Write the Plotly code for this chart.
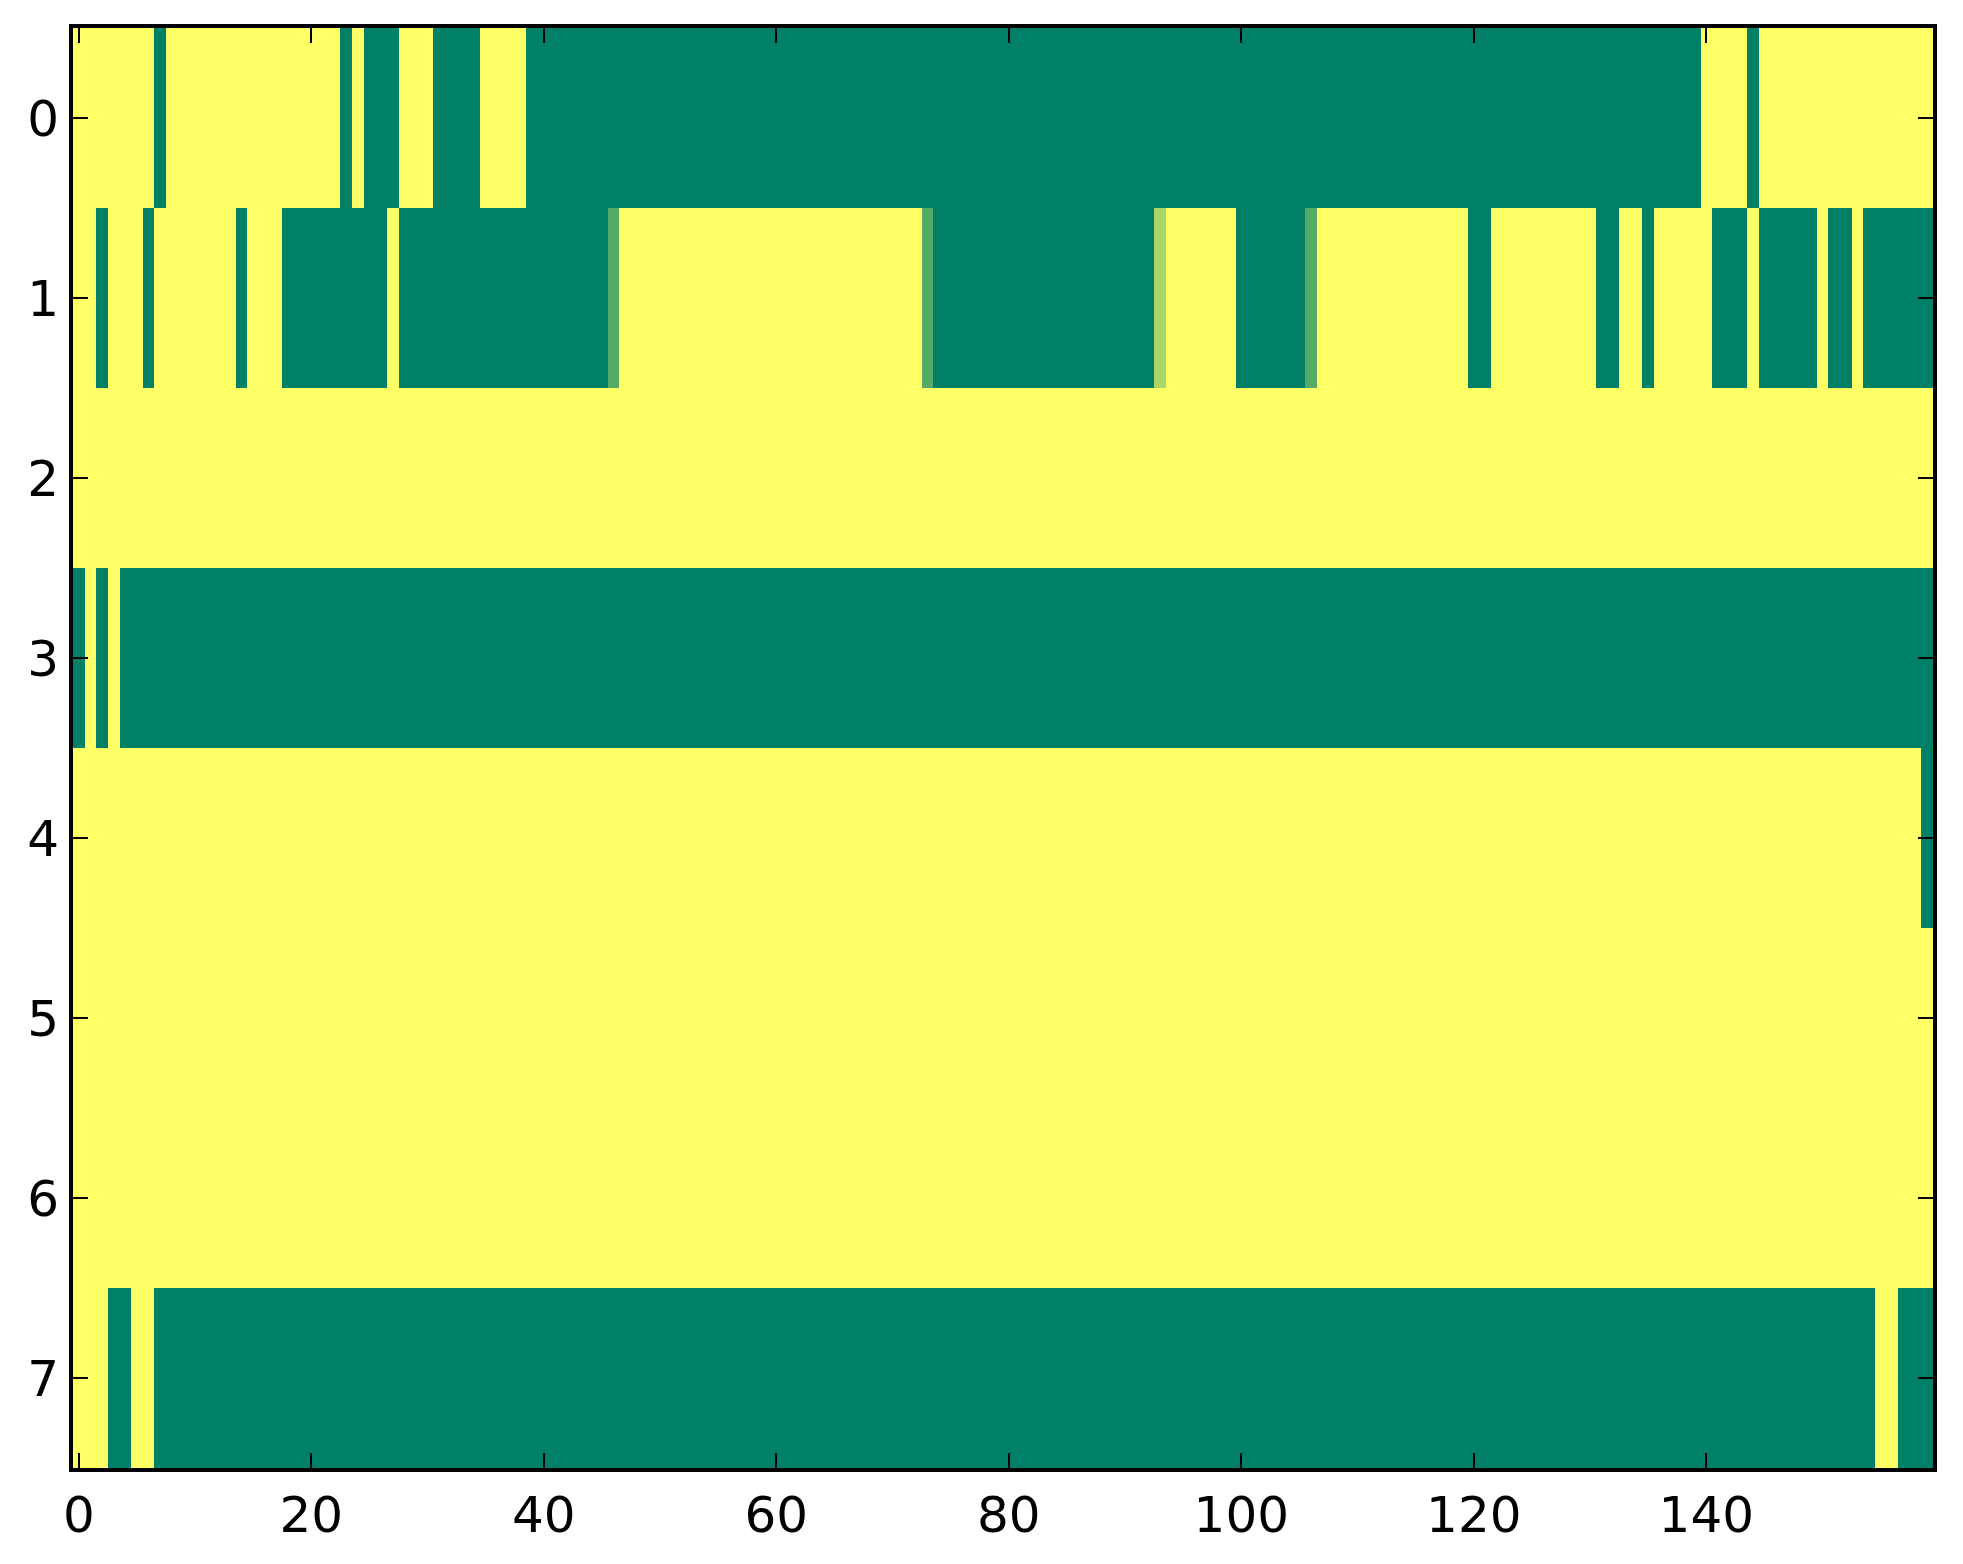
import plotly.graph_objects as go

# cell values per row as (value, run length) from column 0 to 159
row0 = [(1, 7), (0, 1), (1, 15), (0, 1), (1, 1), (0, 3), (1, 3), (0, 4), (1, 4),
        (0, 101), (1, 4), (0, 1), (1, 15)]
row1 = [(1, 2), (0, 1), (1, 3), (0, 1), (1, 7), (0, 1), (1, 3), (0, 9), (1, 1),
        (0, 18), (0.33, 1), (1, 26), (0.33, 1), (0, 19), (0.67, 1), (1, 6), (0, 6),
        (0.33, 1), (1, 13), (0, 2), (1, 9), (0, 2), (1, 2), (0, 1), (1, 5), (0, 3),
        (1, 1), (0, 5), (1, 1), (0, 2), (1, 1), (0, 6)]
row2 = [(1, 160)]
row3 = [(0, 1), (1, 1), (0, 1), (1, 1), (0, 156)]
row4 = [(1, 159), (0, 1)]
row5 = [(1, 160)]
row6 = [(1, 160)]
row7 = [(1, 3), (0, 2), (1, 2), (0, 148), (1, 2), (0, 3)]

x_ticks = [0, 20, 40, 60, 80, 100, 120, 140]
y_ticks = [0, 1, 2, 3, 4, 5, 6, 7]


def expand(runs):
    out = []
    for v, n in runs:
        out += [v] * n
    return out


z = [expand(r) for r in [row0, row1, row2, row3, row4, row5, row6, row7]]

# matplotlib "summer": green -> yellow
summer = [[0, '#008066'], [1, '#ffff66']]

fig = go.Figure(go.Heatmap(z=z, x=list(range(len(z[0]))), y=y_ticks,
                           colorscale=summer, zmin=0, zmax=1, showscale=False))

axis_style = dict(showline=True, linecolor='black', linewidth=4, mirror='ticks',
                  ticks='inside', ticklen=15, tickwidth=2, tickcolor='black',
                  showgrid=False, zeroline=False,
                  tickfont=dict(family='DejaVu Sans', size=50, color='black'))

# page body adds 8px on the left/top, so the figure is a bit smaller than the window
fig.update_layout(
    width=1955, height=1556,
    margin=dict(l=65, r=30, t=20, b=96),
    paper_bgcolor='white', plot_bgcolor='white',
    xaxis=dict(range=[-0.5, 159.5], tickmode='array', tickvals=x_ticks, **axis_style),
    yaxis=dict(range=[7.5, -0.5], tickmode='array', tickvals=y_ticks, **axis_style),
)

fig.write_html("out.html")
